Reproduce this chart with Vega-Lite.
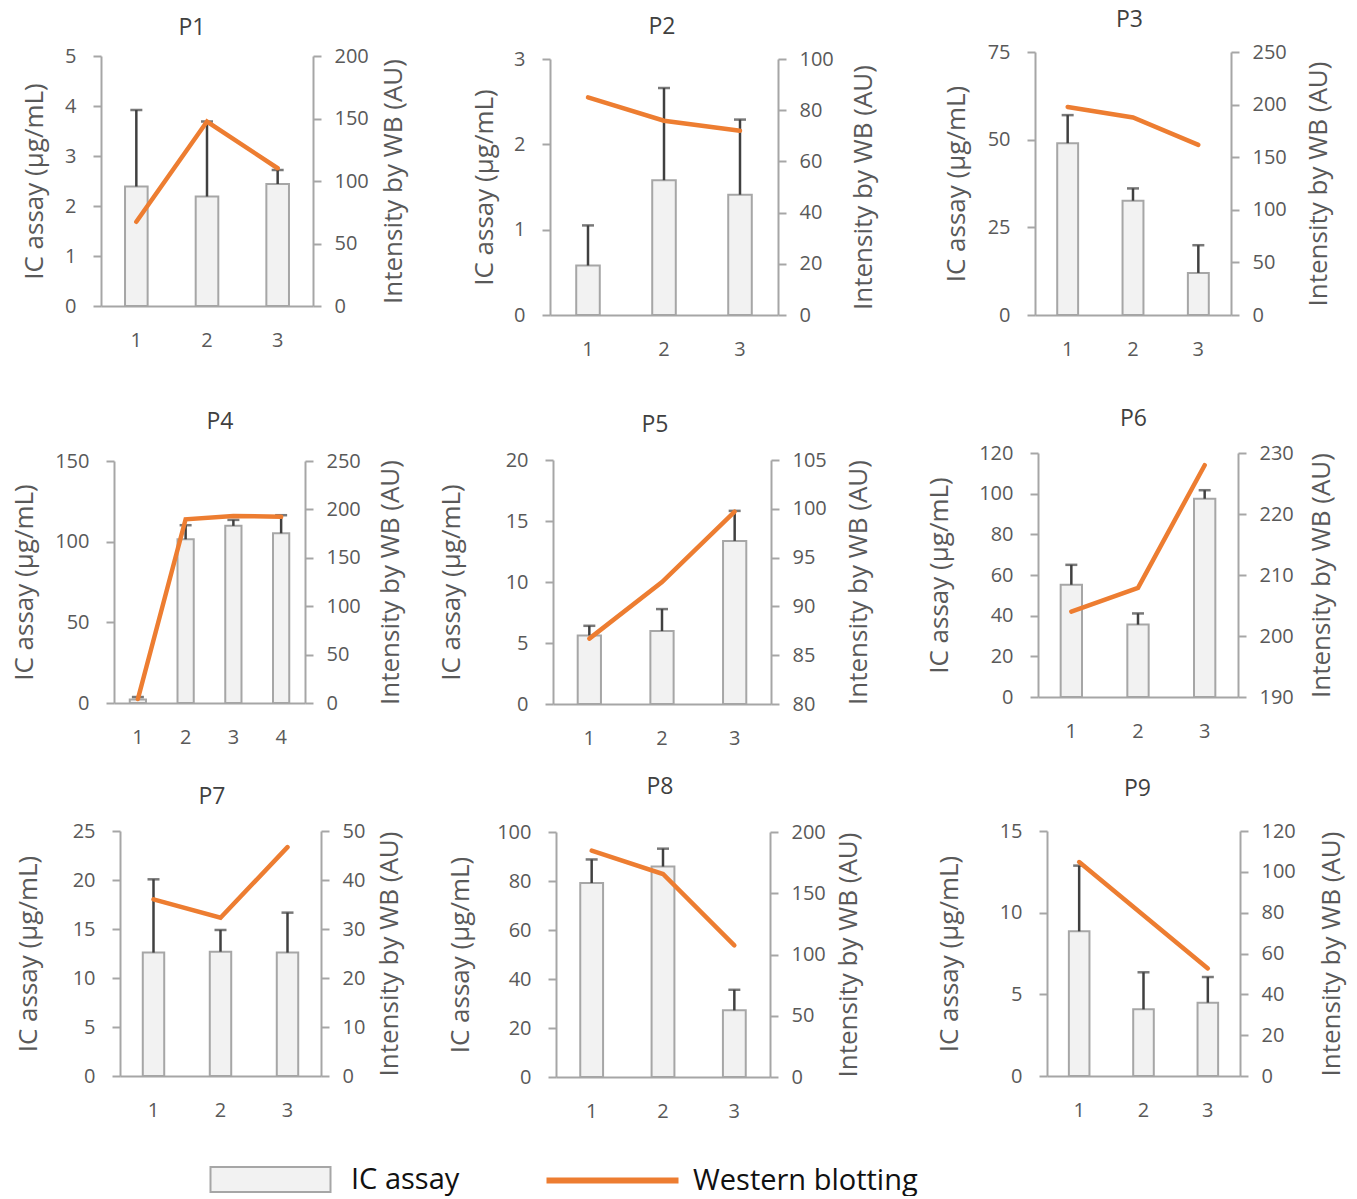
{
  "$schema": "https://vega.github.io/schema/vega-lite/v6.json",
  "background": "white",
  "padding": {"left": 11, "top": 9, "right": 4, "bottom": 0},
  "bounds": "flush",
  "columns": 3,
  "spacing": {"row": 127, "column": 229},
  "datasets": {
    "p1": [
      {"x": "1", "ic": 2.39, "icTop": 3.92, "wb": 67.4},
      {"x": "2", "ic": 2.19, "icTop": 3.69, "wb": 147.6},
      {"x": "3", "ic": 2.44, "icTop": 2.72, "wb": 110.2}
    ],
    "p2": [
      {"x": "1", "ic": 0.58, "icTop": 1.05, "wb": 85.0},
      {"x": "2", "ic": 1.58, "icTop": 2.66, "wb": 75.9},
      {"x": "3", "ic": 1.41, "icTop": 2.29, "wb": 72.0}
    ],
    "p3": [
      {"x": "1", "ic": 49.0, "icTop": 57.0, "wb": 197.8},
      {"x": "2", "ic": 32.6, "icTop": 36.1, "wb": 187.7},
      {"x": "3", "ic": 12.0, "icTop": 19.9, "wb": 161.7}
    ],
    "p4": [
      {"x": "1", "ic": 2.1, "icTop": 3.7, "wb": 4.1},
      {"x": "2", "ic": 101.5, "icTop": 110.2, "wb": 189.8},
      {"x": "3", "ic": 109.8, "icTop": 113.5, "wb": 193.3},
      {"x": "4", "ic": 105.2, "icTop": 116.4, "wb": 192.3}
    ],
    "p5": [
      {"x": "1", "ic": 5.62, "icTop": 6.41, "wb": 86.7},
      {"x": "2", "ic": 5.98, "icTop": 7.78, "wb": 92.5},
      {"x": "3", "ic": 13.37, "icTop": 15.83, "wb": 99.7}
    ],
    "p6": [
      {"x": "1", "ic": 55.2, "icTop": 65.0, "wb": 204.0},
      {"x": "2", "ic": 35.6, "icTop": 41.1, "wb": 207.9},
      {"x": "3", "ic": 97.5, "icTop": 101.7, "wb": 228.0}
    ],
    "p7": [
      {"x": "1", "ic": 12.59, "icTop": 20.07, "wb": 36.05},
      {"x": "2", "ic": 12.69, "icTop": 14.9, "wb": 32.3},
      {"x": "3", "ic": 12.59, "icTop": 16.67, "wb": 46.7}
    ],
    "p8": [
      {"x": "1", "ic": 79.2, "icTop": 88.8, "wb": 184.8},
      {"x": "2", "ic": 85.9, "icTop": 93.2, "wb": 165.7},
      {"x": "3", "ic": 27.2, "icTop": 35.6, "wb": 107.5}
    ],
    "p9": [
      {"x": "1", "ic": 8.86, "icTop": 12.88, "wb": 104.8},
      {"x": "2", "ic": 4.08, "icTop": 6.35, "wb": 78.7},
      {"x": "3", "ic": 4.49, "icTop": 6.06, "wb": 52.7}
    ]
  },
  "concat": [
    {
      "title": {"text": "P1", "offset": 6, "dx": -19},
      "width": 220, "height": 274,
      "data": {"name": "p1"},
      "encoding": {"x": {"field": "x", "type": "ordinal", "bandPosition": 0.5, "scale": {"range": [0, 212], "paddingInner": 0, "paddingOuter": 0}, "axis": {"offset": -20}}},
      "layer": [
        {"layer": [
          {"mark": {"type": "bar", "width": {"band": 0.32}, "fill": "#f2f2f2", "stroke": "#a6a6a6", "strokeWidth": 2},
           "encoding": {"y": {"field": "ic", "type": "quantitative", "scale": {"domain": [0, 5], "nice": false, "range": [254, 4]}, "axis": {"orient": "left", "values": [0, 1, 2, 3, 4, 5], "title": "IC assay (μg/mL)", "offset": 0, "titlePadding": 17}}}},
          {"mark": {"type": "rule", "color": "#404040", "strokeWidth": 2.5},
           "encoding": {"y": {"field": "ic", "type": "quantitative", "scale": {"domain": [0, 5], "nice": false, "range": [254, 4]}, "axis": {"orient": "left", "values": [0, 1, 2, 3, 4, 5], "title": "IC assay (μg/mL)", "offset": 0, "titlePadding": 17}}, "y2": {"field": "icTop"}}},
          {"mark": {"type": "tick", "color": "#404040", "thickness": 2.5, "size": 12},
           "encoding": {"y": {"field": "icTop", "type": "quantitative", "scale": {"domain": [0, 5], "nice": false, "range": [254, 4]}, "axis": {"orient": "left", "values": [0, 1, 2, 3, 4, 5], "title": "IC assay (μg/mL)", "offset": 0, "titlePadding": 17}}}}
        ]},
        {"mark": {"type": "line", "color": "#ed7d31", "strokeWidth": 4.5, "strokeCap": "round"},
         "encoding": {"y": {"field": "wb", "type": "quantitative", "scale": {"domain": [0, 200], "nice": false, "range": [254, 4]}, "axis": {"orient": "right", "values": [0, 50, 100, 150, 200], "title": "Intensity by WB (AU)", "offset": -8, "titlePadding": 12}}}}
      ],
      "resolve": {"scale": {"y": "independent"}}
    },
    {
      "title": {"text": "P2", "offset": 10, "dx": -16},
      "width": 256, "height": 274,
      "data": {"name": "p2"},
      "encoding": {"x": {"field": "x", "type": "ordinal", "bandPosition": 0.5, "scale": {"range": [0, 228], "paddingInner": 0, "paddingOuter": 0}, "axis": {"offset": -11}}},
      "layer": [
        {"layer": [
          {"mark": {"type": "bar", "width": {"band": 0.31}, "fill": "#f2f2f2", "stroke": "#a6a6a6", "strokeWidth": 2},
           "encoding": {"y": {"field": "ic", "type": "quantitative", "scale": {"domain": [0, 3], "nice": false, "range": [263, 7]}, "axis": {"orient": "left", "values": [0, 1, 2, 3], "title": "IC assay (μg/mL)", "offset": 0, "titlePadding": 16}}}},
          {"mark": {"type": "rule", "color": "#404040", "strokeWidth": 2.5},
           "encoding": {"y": {"field": "ic", "type": "quantitative", "scale": {"domain": [0, 3], "nice": false, "range": [263, 7]}, "axis": {"orient": "left", "values": [0, 1, 2, 3], "title": "IC assay (μg/mL)", "offset": 0, "titlePadding": 16}}, "y2": {"field": "icTop"}}},
          {"mark": {"type": "tick", "color": "#404040", "thickness": 2.5, "size": 12},
           "encoding": {"y": {"field": "icTop", "type": "quantitative", "scale": {"domain": [0, 3], "nice": false, "range": [263, 7]}, "axis": {"orient": "left", "values": [0, 1, 2, 3], "title": "IC assay (μg/mL)", "offset": 0, "titlePadding": 16}}}}
        ]},
        {"mark": {"type": "line", "color": "#ed7d31", "strokeWidth": 4.5, "strokeCap": "round"},
         "encoding": {"y": {"field": "wb", "type": "quantitative", "scale": {"domain": [0, 100], "nice": false, "range": [263, 7]}, "axis": {"orient": "right", "values": [0, 20, 40, 60, 80, 100], "title": "Intensity by WB (AU)", "offset": -28, "titlePadding": 17}}}}
      ],
      "resolve": {"scale": {"y": "independent"}}
    },
    {
      "title": {"text": "P3", "offset": 10, "dx": -8},
      "width": 205, "height": 274,
      "data": {"name": "p3"},
      "encoding": {"x": {"field": "x", "type": "ordinal", "bandPosition": 0.5, "scale": {"range": [0, 196], "paddingInner": 0, "paddingOuter": 0}, "axis": {"offset": -11}}},
      "layer": [
        {"layer": [
          {"mark": {"type": "bar", "width": {"band": 0.32}, "fill": "#f2f2f2", "stroke": "#a6a6a6", "strokeWidth": 2},
           "encoding": {"y": {"field": "ic", "type": "quantitative", "scale": {"domain": [0, 75], "nice": false, "range": [263, 0]}, "axis": {"orient": "left", "values": [0, 25, 50, 75], "title": "IC assay (μg/mL)", "offset": 0, "titlePadding": 18}}}},
          {"mark": {"type": "rule", "color": "#404040", "strokeWidth": 2.5},
           "encoding": {"y": {"field": "ic", "type": "quantitative", "scale": {"domain": [0, 75], "nice": false, "range": [263, 0]}, "axis": {"orient": "left", "values": [0, 25, 50, 75], "title": "IC assay (μg/mL)", "offset": 0, "titlePadding": 18}}, "y2": {"field": "icTop"}}},
          {"mark": {"type": "tick", "color": "#404040", "thickness": 2.5, "size": 12},
           "encoding": {"y": {"field": "icTop", "type": "quantitative", "scale": {"domain": [0, 75], "nice": false, "range": [263, 0]}, "axis": {"orient": "left", "values": [0, 25, 50, 75], "title": "IC assay (μg/mL)", "offset": 0, "titlePadding": 18}}}}
        ]},
        {"mark": {"type": "line", "color": "#ed7d31", "strokeWidth": 4.5, "strokeCap": "round"},
         "encoding": {"y": {"field": "wb", "type": "quantitative", "scale": {"domain": [0, 250], "nice": false, "range": [263, 0]}, "axis": {"orient": "right", "values": [0, 50, 100, 150, 200, 250], "title": "Intensity by WB (AU)", "offset": -9, "titlePadding": 19}}}}
      ],
      "resolve": {"scale": {"y": "independent"}}
    },
    {
      "title": {"text": "P4", "offset": 17, "dx": 9},
      "width": 220, "height": 251,
      "data": {"name": "p4"},
      "encoding": {"x": {"field": "x", "type": "ordinal", "bandPosition": 0.5, "scale": {"range": [13, 204], "paddingInner": 0, "paddingOuter": 0}, "axis": {"offset": -1}}},
      "layer": [
        {"layer": [
          {"mark": {"type": "bar", "width": {"band": 0.34}, "fill": "#f2f2f2", "stroke": "#a6a6a6", "strokeWidth": 2},
           "encoding": {"y": {"field": "ic", "type": "quantitative", "scale": {"domain": [0, 150], "nice": false, "range": [250, 8]}, "axis": {"orient": "left", "values": [0, 50, 100, 150], "title": "IC assay (μg/mL)", "offset": -13, "titlePadding": 17}}}},
          {"mark": {"type": "rule", "color": "#404040", "strokeWidth": 2.5},
           "encoding": {"y": {"field": "ic", "type": "quantitative", "scale": {"domain": [0, 150], "nice": false, "range": [250, 8]}, "axis": {"orient": "left", "values": [0, 50, 100, 150], "title": "IC assay (μg/mL)", "offset": -13, "titlePadding": 17}}, "y2": {"field": "icTop"}}},
          {"mark": {"type": "tick", "color": "#404040", "thickness": 2.5, "size": 12},
           "encoding": {"y": {"field": "icTop", "type": "quantitative", "scale": {"domain": [0, 150], "nice": false, "range": [250, 8]}, "axis": {"orient": "left", "values": [0, 50, 100, 150], "title": "IC assay (μg/mL)", "offset": -13, "titlePadding": 17}}}}
        ]},
        {"mark": {"type": "line", "color": "#ed7d31", "strokeWidth": 4.5, "strokeCap": "round"},
         "encoding": {"y": {"field": "wb", "type": "quantitative", "scale": {"domain": [0, 250], "nice": false, "range": [250, 8]}, "axis": {"orient": "right", "values": [0, 50, 100, 150, 200, 250], "title": "Intensity by WB (AU)", "offset": -16, "titlePadding": 17}}}}
      ],
      "resolve": {"scale": {"y": "independent"}}
    },
    {
      "title": {"text": "P5", "offset": 13, "dx": -23},
      "width": 256, "height": 251,
      "data": {"name": "p5"},
      "encoding": {"x": {"field": "x", "type": "ordinal", "bandPosition": 0.5, "scale": {"range": [3, 221], "paddingInner": 0, "paddingOuter": 0}, "axis": {"offset": 0}}},
      "layer": [
        {"layer": [
          {"mark": {"type": "bar", "width": {"band": 0.32}, "fill": "#f2f2f2", "stroke": "#a6a6a6", "strokeWidth": 2},
           "encoding": {"y": {"field": "ic", "type": "quantitative", "scale": {"domain": [0, 20], "nice": false, "range": [251, 7]}, "axis": {"orient": "left", "values": [0, 5, 10, 15, 20], "title": "IC assay (μg/mL)", "offset": -3, "titlePadding": 41}}}},
          {"mark": {"type": "rule", "color": "#404040", "strokeWidth": 2.5},
           "encoding": {"y": {"field": "ic", "type": "quantitative", "scale": {"domain": [0, 20], "nice": false, "range": [251, 7]}, "axis": {"orient": "left", "values": [0, 5, 10, 15, 20], "title": "IC assay (μg/mL)", "offset": -3, "titlePadding": 41}}, "y2": {"field": "icTop"}}},
          {"mark": {"type": "tick", "color": "#404040", "thickness": 2.5, "size": 12},
           "encoding": {"y": {"field": "icTop", "type": "quantitative", "scale": {"domain": [0, 20], "nice": false, "range": [251, 7]}, "axis": {"orient": "left", "values": [0, 5, 10, 15, 20], "title": "IC assay (μg/mL)", "offset": -3, "titlePadding": 41}}}}
        ]},
        {"mark": {"type": "line", "color": "#ed7d31", "strokeWidth": 4.5, "strokeCap": "round"},
         "encoding": {"y": {"field": "wb", "type": "quantitative", "scale": {"domain": [80, 105], "nice": false, "zero": false, "range": [251, 7]}, "axis": {"orient": "right", "values": [80, 85, 90, 95, 100, 105], "title": "Intensity by WB (AU)", "offset": -35, "titlePadding": 19}}}}
      ],
      "resolve": {"scale": {"y": "independent"}}
    },
    {
      "title": {"text": "P6", "offset": 12, "dx": -4},
      "width": 205, "height": 251,
      "data": {"name": "p6"},
      "encoding": {"x": {"field": "x", "type": "ordinal", "bandPosition": 0.5, "scale": {"range": [3, 203], "paddingInner": 0, "paddingOuter": 0}, "axis": {"offset": -7}}},
      "layer": [
        {"layer": [
          {"mark": {"type": "bar", "width": {"band": 0.32}, "fill": "#f2f2f2", "stroke": "#a6a6a6", "strokeWidth": 2},
           "encoding": {"y": {"field": "ic", "type": "quantitative", "scale": {"domain": [0, 120], "nice": false, "range": [244, 0]}, "axis": {"orient": "left", "values": [0, 20, 40, 60, 80, 100, 120], "title": "IC assay (μg/mL)", "offset": -3, "titlePadding": 26}}}},
          {"mark": {"type": "rule", "color": "#404040", "strokeWidth": 2.5},
           "encoding": {"y": {"field": "ic", "type": "quantitative", "scale": {"domain": [0, 120], "nice": false, "range": [244, 0]}, "axis": {"orient": "left", "values": [0, 20, 40, 60, 80, 100, 120], "title": "IC assay (μg/mL)", "offset": -3, "titlePadding": 26}}, "y2": {"field": "icTop"}}},
          {"mark": {"type": "tick", "color": "#404040", "thickness": 2.5, "size": 12},
           "encoding": {"y": {"field": "icTop", "type": "quantitative", "scale": {"domain": [0, 120], "nice": false, "range": [244, 0]}, "axis": {"orient": "left", "values": [0, 20, 40, 60, 80, 100, 120], "title": "IC assay (μg/mL)", "offset": -3, "titlePadding": 26}}}}
        ]},
        {"mark": {"type": "line", "color": "#ed7d31", "strokeWidth": 4.5, "strokeCap": "round"},
         "encoding": {"y": {"field": "wb", "type": "quantitative", "scale": {"domain": [190, 230], "nice": false, "zero": false, "range": [244, 0]}, "axis": {"orient": "right", "values": [190, 200, 210, 220, 230], "title": "Intensity by WB (AU)", "offset": -2, "titlePadding": 15}}}}
      ],
      "resolve": {"scale": {"y": "independent"}}
    },
    {
      "title": {"text": "P7", "offset": 12, "dx": 1},
      "width": 220, "height": 246,
      "data": {"name": "p7"},
      "encoding": {"x": {"field": "x", "type": "ordinal", "bandPosition": 0.5, "scale": {"range": [19, 220], "paddingInner": 0, "paddingOuter": 0}, "axis": {"offset": -1}}},
      "layer": [
        {"layer": [
          {"mark": {"type": "bar", "width": {"band": 0.32}, "fill": "#f2f2f2", "stroke": "#a6a6a6", "strokeWidth": 2},
           "encoding": {"y": {"field": "ic", "type": "quantitative", "scale": {"domain": [0, 25], "nice": false, "range": [245, 0]}, "axis": {"orient": "left", "values": [0, 5, 10, 15, 20, 25], "title": "IC assay (μg/mL)", "offset": -19, "titlePadding": 31}}}},
          {"mark": {"type": "rule", "color": "#404040", "strokeWidth": 2.5},
           "encoding": {"y": {"field": "ic", "type": "quantitative", "scale": {"domain": [0, 25], "nice": false, "range": [245, 0]}, "axis": {"orient": "left", "values": [0, 5, 10, 15, 20, 25], "title": "IC assay (μg/mL)", "offset": -19, "titlePadding": 31}}, "y2": {"field": "icTop"}}},
          {"mark": {"type": "tick", "color": "#404040", "thickness": 2.5, "size": 12},
           "encoding": {"y": {"field": "icTop", "type": "quantitative", "scale": {"domain": [0, 25], "nice": false, "range": [245, 0]}, "axis": {"orient": "left", "values": [0, 5, 10, 15, 20, 25], "title": "IC assay (μg/mL)", "offset": -19, "titlePadding": 31}}}}
        ]},
        {"mark": {"type": "line", "color": "#ed7d31", "strokeWidth": 4.5, "strokeCap": "round"},
         "encoding": {"y": {"field": "wb", "type": "quantitative", "scale": {"domain": [0, 50], "nice": false, "range": [245, 0]}, "axis": {"orient": "right", "values": [0, 10, 20, 30, 40, 50], "title": "Intensity by WB (AU)", "offset": 0, "titlePadding": 12}}}}
      ],
      "resolve": {"scale": {"y": "independent"}}
    },
    {
      "title": {"text": "P8", "offset": 23, "dx": -18},
      "width": 256, "height": 246,
      "data": {"name": "p8"},
      "encoding": {"x": {"field": "x", "type": "ordinal", "bandPosition": 0.5, "scale": {"range": [6, 220], "paddingInner": 0, "paddingOuter": 0}, "axis": {"offset": 0}}},
      "layer": [
        {"layer": [
          {"mark": {"type": "bar", "width": {"band": 0.32}, "stroke": "#a6a6a6", "strokeWidth": 2},
           "encoding": {
             "y": {"field": "ic", "type": "quantitative", "scale": {"domain": [0, 100], "nice": false, "range": [246, 1]}, "axis": {"orient": "left", "values": [0, 20, 40, 60, 80, 100], "title": "IC assay (μg/mL)", "offset": -6, "titlePadding": 23}},
             "fill": {"datum": "IC assay", "type": "nominal", "scale": {"domain": ["IC assay"], "range": ["#f2f2f2"]},
               "legend": {"orient": "none", "legendX": 155, "legendY": 1113, "title": null, "padding": 0,
                 "symbolType": "M-6,-1.25H6V1.25H-6Z", "symbolSize": 400, "symbolStrokeColor": "#a6a6a6", "symbolStrokeWidth": 2, "symbolOpacity": 1,
                 "labelOffset": 66, "labelFont": "Open Sans", "labelFontSize": 29, "labelColor": "#111111", "labelLimit": 400}}
           }},
          {"mark": {"type": "rule", "color": "#404040", "strokeWidth": 2.5},
           "encoding": {"y": {"field": "ic", "type": "quantitative", "scale": {"domain": [0, 100], "nice": false, "range": [246, 1]}, "axis": {"orient": "left", "values": [0, 20, 40, 60, 80, 100], "title": "IC assay (μg/mL)", "offset": -6, "titlePadding": 23}}, "y2": {"field": "icTop"}}},
          {"mark": {"type": "tick", "color": "#404040", "thickness": 2.5, "size": 12},
           "encoding": {"y": {"field": "icTop", "type": "quantitative", "scale": {"domain": [0, 100], "nice": false, "range": [246, 1]}, "axis": {"orient": "left", "values": [0, 20, 40, 60, 80, 100], "title": "IC assay (μg/mL)", "offset": -6, "titlePadding": 23}}}}
        ]},
        {"mark": {"type": "line", "strokeWidth": 4.5, "strokeCap": "round"},
         "encoding": {
           "y": {"field": "wb", "type": "quantitative", "scale": {"domain": [0, 200], "nice": false, "range": [246, 1]}, "axis": {"orient": "right", "values": [0, 50, 100, 150, 200], "title": "Intensity by WB (AU)", "offset": -36, "titlePadding": 10}},
           "stroke": {"datum": "Western blotting", "type": "nominal", "scale": {"domain": ["Western blotting"], "range": ["#ed7d31"]},
             "legend": {"orient": "none", "legendX": 497, "legendY": 1114, "title": null, "padding": 0,
               "symbolType": "M-6.6,0H6.6", "symbolSize": 400, "symbolStrokeWidth": 6, "symbolOpacity": 1,
               "labelOffset": 66, "labelFont": "Open Sans", "labelFontSize": 29, "labelColor": "#111111", "labelLimit": 400}}
         }}
      ],
      "resolve": {"scale": {"y": "independent"}}
    },
    {
      "title": {"text": "P9", "offset": 20, "dx": 0},
      "width": 205, "height": 246,
      "data": {"name": "p9"},
      "encoding": {"x": {"field": "x", "type": "ordinal", "bandPosition": 0.5, "scale": {"range": [12, 205], "paddingInner": 0, "paddingOuter": 0}, "axis": {"offset": -1}}},
      "layer": [
        {"layer": [
          {"mark": {"type": "bar", "width": {"band": 0.32}, "fill": "#f2f2f2", "stroke": "#a6a6a6", "strokeWidth": 2},
           "encoding": {"y": {"field": "ic", "type": "quantitative", "scale": {"domain": [0, 15], "nice": false, "range": [245, 0]}, "axis": {"orient": "left", "values": [0, 5, 10, 15], "title": "IC assay (μg/mL)", "offset": -12, "titlePadding": 37}}}},
          {"mark": {"type": "rule", "color": "#404040", "strokeWidth": 2.5},
           "encoding": {"y": {"field": "ic", "type": "quantitative", "scale": {"domain": [0, 15], "nice": false, "range": [245, 0]}, "axis": {"orient": "left", "values": [0, 5, 10, 15], "title": "IC assay (μg/mL)", "offset": -12, "titlePadding": 37}}, "y2": {"field": "icTop"}}},
          {"mark": {"type": "tick", "color": "#404040", "thickness": 2.5, "size": 12},
           "encoding": {"y": {"field": "icTop", "type": "quantitative", "scale": {"domain": [0, 15], "nice": false, "range": [245, 0]}, "axis": {"orient": "left", "values": [0, 5, 10, 15], "title": "IC assay (μg/mL)", "offset": -12, "titlePadding": 37}}}}
        ]},
        {"mark": {"type": "line", "color": "#ed7d31", "strokeWidth": 4.5, "strokeCap": "round"},
         "encoding": {"y": {"field": "wb", "type": "quantitative", "scale": {"domain": [0, 120], "nice": false, "range": [245, 0]}, "axis": {"orient": "right", "values": [0, 20, 40, 60, 80, 100, 120], "title": "Intensity by WB (AU)", "offset": 0, "titlePadding": 23}}}}
      ],
      "resolve": {"scale": {"y": "independent"}}
    }
  ],
  "config": {
    "view": {"stroke": null},
    "font": "Open Sans",
    "title": {"font": "Open Sans", "fontSize": 23, "fontWeight": "normal", "color": "#404040", "anchor": "middle"},
    "axis": {"grid": false, "domainColor": "#a6a6a6", "domainWidth": 2, "tickColor": "#a6a6a6", "tickWidth": 2, "tickSize": 8,
      "labelFont": "Open Sans", "labelFontSize": 20, "labelColor": "#595959",
      "titleFont": "Open Sans", "titleFontSize": 26, "titleFontWeight": "normal", "titleColor": "#595959"},
    "axisX": {"ticks": false, "labelPadding": 24, "labelAngle": 0, "title": null, "domainWidth": 2},
    "axisLeft": {"labelPadding": 17},
    "axisRight": {"labelPadding": 13, "titleAngle": 270, "titleBaseline": "top"}
  }
}
